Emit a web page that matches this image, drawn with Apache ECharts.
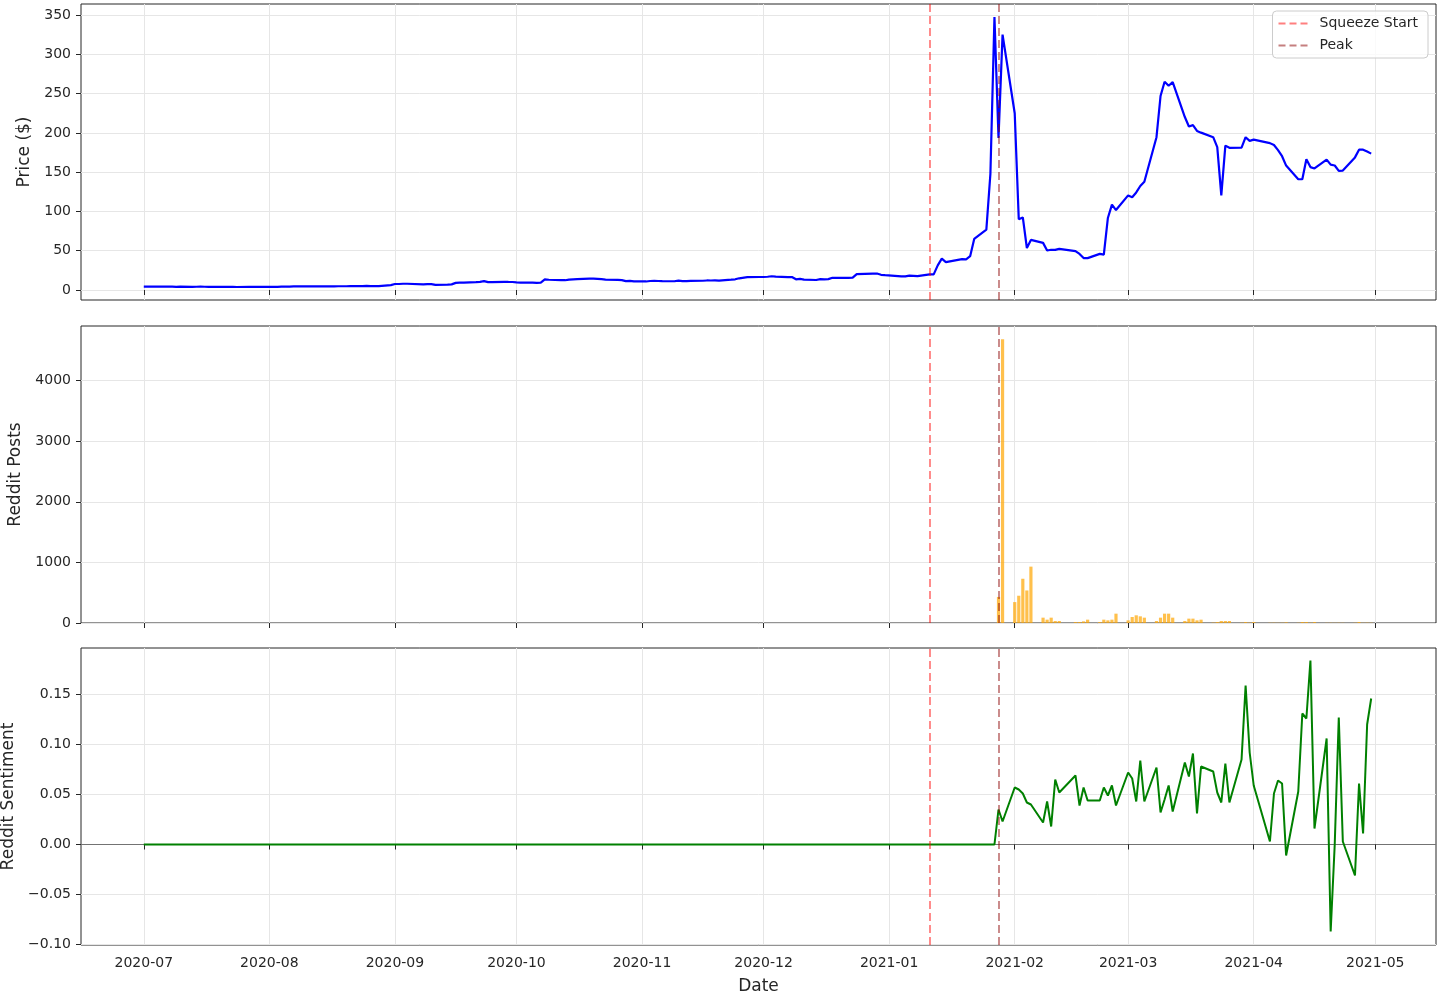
<!DOCTYPE html>
<html>
<head>
<meta charset="utf-8">
<script src="https://cdn.jsdelivr.net/npm/echarts@6/dist/echarts.min.js"></script>
<style>
  html, body { margin: 0; padding: 0; background: #fff; }
  #chart { width: 1440px; height: 1002px; }
</style>
</head>
<body>
<div id="chart"></div>
<script>
// trading calendar
var firstDay = "2020-07-01";
var lastDay = "2021-04-30";
var holidays = ["2020-07-03", "2020-09-07", "2020-11-26", "2020-12-25",
  "2021-01-01", "2021-01-18", "2021-02-15", "2021-04-02"];
var monthTicks = ["2020-07", "2020-08", "2020-09", "2020-10", "2020-11", "2020-12",
  "2021-01", "2021-02", "2021-03", "2021-04", "2021-05"];
var squeezeStart = "2021-01-11";
var peakDate = "2021-01-28";
var redditFrom = "2021-01-28";

// closing price per trading day, month by month
var priceJul = [4.43, 4.33, 4.37, 4.28, 4.25, 4.10, 4.26, 4.05, 4.18, 4.37, 4.15, 4.10, 3.92, 3.97, 3.94, 3.96, 3.85, 4.02, 4.05, 4.08, 4.00, 4.01];
var priceAug = [4.07, 4.21, 4.30, 4.38, 4.53, 4.53, 4.56, 4.66, 4.54, 4.60, 4.72, 4.83, 4.80, 4.79, 4.97, 5.03, 5.26, 5.02, 5.05, 4.95, 6.20];
var priceSep = [7.65, 7.66, 7.95, 8.00, 7.26, 7.60, 7.52, 6.60, 6.90, 7.20, 9.06, 9.45, 9.48, 10.09, 10.39, 11.30, 10.13, 10.11, 10.48, 10.28, 10.21];
var priceOct = [9.77, 9.39, 9.46, 9.13, 9.36, 13.49, 13.04, 12.72, 12.48, 13.30, 13.65, 13.86, 14.42, 14.47, 14.23, 13.79, 13.31, 12.84, 12.55, 11.40, 11.71, 11.00];
var priceNov = [10.88, 11.48, 11.70, 11.47, 11.28, 11.14, 11.95, 11.43, 11.28, 11.58, 11.80, 12.15, 12.14, 12.21, 12.04, 13.24, 13.66, 14.91, 16.35, 16.56];
var priceDec = [16.54, 16.90, 17.55, 16.94, 16.35, 16.58, 13.66, 14.12, 13.31, 12.72, 13.85, 13.47, 13.84, 15.63, 15.53, 15.53, 15.72, 20.15, 20.99, 20.99, 19.38, 18.84];
var priceJan = [17.25, 17.37, 18.36, 18.08, 17.69, 19.94, 19.95, 31.40, 39.91, 35.50, 39.36, 39.12, 43.03, 65.01, 76.79, 147.98, 347.51, 193.60, 325.00];
var priceFeb = [225.00, 90.00, 92.41, 53.50, 63.77, 60.00, 50.31, 51.20, 51.10, 52.40, 49.51, 45.94, 40.69, 40.59, 46.00, 44.97, 91.71, 108.73, 101.74];
var priceMar = [120.40, 118.18, 124.18, 132.35, 137.74, 194.50, 246.90, 265.00, 260.00, 264.50, 220.14, 208.17, 209.81, 202.50, 200.27, 194.49, 181.75, 120.34, 183.75, 181.00, 181.30, 194.46, 189.82];
var priceApr = [191.45, 186.95, 184.50, 177.97, 170.26, 158.36, 141.09, 140.99, 166.53, 156.44, 154.69, 166.00, 159.50, 158.50, 151.60, 152.00, 168.80, 178.60, 178.60, 176.20, 173.60];

// reddit posts per trading day from redditFrom
var postsJan = [430, 4680];
var postsFeb = [345, 450, 730, 537, 930, 88, 55, 88, 33, 33, 16, 16, 27, 55, 16, 55, 44, 55, 154];
var postsMar = [44, 99, 127, 110, 88, 33, 88, 154, 154, 88, 33, 72, 72, 44, 55, 6, 16, 33, 33, 33, 5, 16, 6];
var postsApr = [16, 4, 5, 3, 4, 11, 4, 16, 16, 5, 16, 3, 4, 3, 4, 3, 4, 16, 3, 5, 4];

// mean sentiment per trading day from redditFrom (zero before)
var sentJan = [0.035, 0.023];
var sentFeb = [0.057, 0.055, 0.051, 0.042, 0.040, 0.022, 0.043, 0.018, 0.065, 0.052, 0.069, 0.039, 0.057, 0.044, 0.044, 0.057, 0.049, 0.059, 0.039];
var sentMar = [0.072, 0.066, 0.043, 0.084, 0.043, 0.077, 0.032, 0.045, 0.059, 0.033, 0.082, 0.068, 0.091, 0.031, 0.078, 0.073, 0.052, 0.042, 0.081, 0.042, 0.085, 0.159, 0.092];
var sentApr = [0.059, 0.003, 0.051, 0.064, 0.061, -0.011, 0.053, 0.131, 0.126, 0.184, 0.016, 0.106, -0.087, 0.000, 0.127, 0.003, -0.031, 0.061, 0.011, 0.120, 0.146];

var priceTicks = [0, 50, 100, 150, 200, 250, 300, 350];
var postsTicks = [0, 1000, 2000, 3000, 4000];
var sentTicks = [-0.10, -0.05, 0, 0.05, 0.10, 0.15];

function utc(s) { return Date.parse(s.length === 7 ? s + "-01T00:00:00Z" : s + "T00:00:00Z"); }

function tradingDays(from, to, skip) {
  var out = [];
  for (var t = utc(from); t <= utc(to); t += 86400000) {
    var d = new Date(t), wd = d.getUTCDay();
    var s = d.toISOString().slice(0, 10);
    if (wd !== 0 && wd !== 6 && skip.indexOf(s) < 0) out.push(s);
  }
  return out;
}

var days = tradingDays(firstDay, lastDay, holidays);
var prices = [].concat(priceJul, priceAug, priceSep, priceOct, priceNov, priceDec, priceJan, priceFeb, priceMar, priceApr);
var posts = [].concat(postsJan, postsFeb, postsMar, postsApr);
var sents = [].concat(sentJan, sentFeb, sentMar, sentApr);
var startIdx = days.indexOf(redditFrom);

var priceData = days.map(function (d, i) { return [utc(d), prices[i]]; });
var postsData = posts.map(function (v, i) { return [utc(days[startIdx + i]), v]; });
var sentData = days.map(function (d, i) { return [utc(d), i < startIdx ? 0 : sents[i - startIdx]]; });

var tickTimes = monthTicks.map(utc);
var xMin = utc("2020-07-01") - 15.5 * 86400000;
var xMax = utc("2021-05-16");

var FONT = "DejaVu Sans";
var INK = "#262626";
var squeezeColor = "rgba(255,0,0,0.5)";
var peakColor = "rgba(139,0,0,0.5)";
var dashIcon = "path://M0,0h7v2h-7z M11,0h7v2h-7z M22,0h7v2h-7z";

function monthLabel(v) {
  var d = new Date(v);
  return d.getUTCFullYear() + "-" + String(d.getUTCMonth() + 1).padStart(2, "0");
}

function xAxisFor(idx, labels) {
  return {
    type: "value", gridIndex: idx, min: xMin, max: xMax,
    axisLine: { show: false },
    axisTick: { show: true, length: 5, customValues: tickTimes, lineStyle: { color: INK } },
    axisLabel: {
      show: labels, customValues: tickTimes, margin: 11,
      fontFamily: FONT, fontSize: 14, color: INK, formatter: monthLabel
    },
    splitLine: { show: true, lineStyle: { color: "#e6e6e6", width: 1 } },
    name: labels ? "Date" : "", nameLocation: "middle", nameGap: 33,
    nameTextStyle: { fontFamily: FONT, fontSize: 17, color: INK }
  };
}

function yAxisFor(idx, name, gap, min, max, ticks, fmt) {
  return {
    type: "value", gridIndex: idx, min: min, max: max,
    axisLine: { show: false },
    axisTick: { show: true, length: 5, customValues: ticks, lineStyle: { color: INK } },
    axisLabel: { customValues: ticks, margin: 10, fontFamily: FONT, fontSize: 14, color: INK, formatter: fmt },
    splitLine: { show: true, lineStyle: { color: "#e6e6e6", width: 1 } },
    name: name, nameLocation: "middle", nameRotate: 90, nameGap: gap,
    nameTextStyle: { fontFamily: FONT, fontSize: 17, color: INK }
  };
}

function vLines() {
  return {
    silent: true, symbol: "none", label: { show: false }, z: 5,
    data: [
      { xAxis: utc(squeezeStart), lineStyle: { color: squeezeColor, type: [8, 4], width: 1.8 } },
      { xAxis: utc(peakDate), lineStyle: { color: peakColor, type: [8, 4], width: 1.8 } }
    ]
  };
}

var gridBox = {
  show: true, borderColor: INK, borderWidth: 1, left: 81, width: 1355,
  containLabel: false, outerBoundsMode: "none"
};

var chart = echarts.init(document.getElementById("chart"));
var option = {
  animation: false,
  backgroundColor: "#fff",
  grid: [
    Object.assign({ top: 4, height: 296 }, gridBox),
    Object.assign({ top: 326, height: 297 }, gridBox),
    Object.assign({ top: 648, height: 297 }, gridBox)
  ],
  legend: {
    data: [
      { name: "Squeeze Start", icon: dashIcon },
      { name: "Peak", icon: dashIcon }
    ],
    orient: "vertical", right: 12, top: 11,
    itemWidth: 29, itemHeight: 2, itemGap: 5,
    padding: [4, 10, 4, 6],
    backgroundColor: "rgba(255,255,255,0.8)",
    borderColor: "#cccccc", borderWidth: 1, borderRadius: 4,
    textStyle: { fontFamily: FONT, fontSize: 14, color: INK, lineHeight: 17, padding: [0, 0, 0, 7] }
  },
  xAxis: [xAxisFor(0, false), xAxisFor(1, false), xAxisFor(2, true)],
  yAxis: [
    yAxisFor(0, "Price ($)", 43, -12.7, 364, priceTicks, function (v) { return String(v); }),
    yAxisFor(1, "Reddit Posts", 54, 0, 4900, postsTicks, function (v) { return String(v); }),
    yAxisFor(2, "Reddit Sentiment", 61, -0.1005, 0.1965, sentTicks, function (v) { return v.toFixed(2).replace("-", "\u2212"); })
  ],
  series: [
    {
      name: "Price", type: "line", xAxisIndex: 0, yAxisIndex: 0, data: priceData,
      showSymbol: false, symbol: "none", lineStyle: { color: "#0000ff", width: 2.2 }, z: 3,
      markLine: vLines()
    },
    {
      name: "Squeeze Start", type: "line", xAxisIndex: 0, yAxisIndex: 0, data: [],
      symbol: "none", itemStyle: { color: squeezeColor },
      lineStyle: { color: squeezeColor, type: [6, 3], width: 1.8 }
    },
    {
      name: "Peak", type: "line", xAxisIndex: 0, yAxisIndex: 0, data: [],
      symbol: "none", itemStyle: { color: peakColor },
      lineStyle: { color: peakColor, type: [6, 3], width: 1.8 }
    },
    {
      name: "Reddit Posts", type: "bar", xAxisIndex: 1, yAxisIndex: 1, data: postsData,
      barWidth: 3.2, itemStyle: { color: "rgba(255,165,0,0.7)" },
      markLine: vLines()
    },
    {
      name: "zero", type: "line", xAxisIndex: 2, yAxisIndex: 2, data: [],
      markLine: {
        silent: true, symbol: "none", label: { show: false }, z: 1,
        data: [{ yAxis: 0, lineStyle: { color: "rgba(0,0,0,0.5)", type: "solid", width: 1.2 } }]
      }
    },
    {
      name: "Reddit Sentiment", type: "line", xAxisIndex: 2, yAxisIndex: 2, data: sentData,
      showSymbol: false, symbol: "none", lineStyle: { color: "#008000", width: 2 }, z: 3,
      markLine: vLines()
    }
  ]
};
chart.setOption(option);
</script>
</body>
</html>
